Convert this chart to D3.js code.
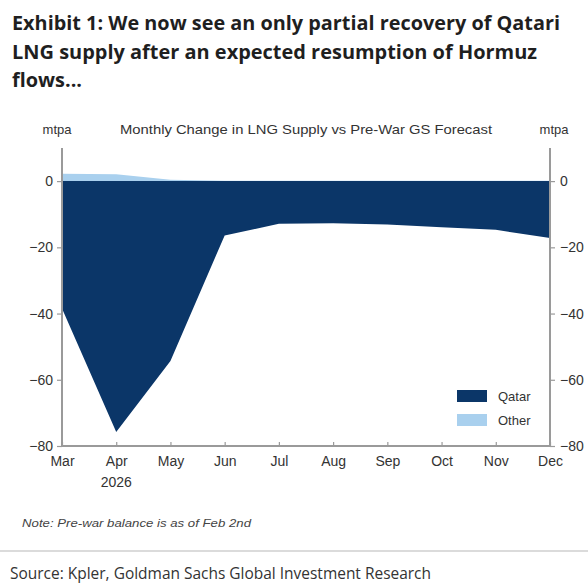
<!DOCTYPE html>
<html lang="en"><head>
<meta charset="UTF-8"><title>Exhibit 1 - Qatari LNG supply</title>
<style>
  body { margin:0; background:#fff; }
  svg { display:block; }
  .title { font-family: 'Open Sans', 'Noto Sans', sans-serif; font-weight:700; font-size:19.5px; fill:#1f1f1f; }
  .ax text { font-family: 'Liberation Sans', Arial, sans-serif; font-size:14px; fill:#333; }
  .lab { font-family: 'Liberation Sans', Arial, sans-serif; font-size:13px; fill:#333; }
  .note { font-family: 'Liberation Sans', Arial, sans-serif; font-style:italic; font-size:11px; fill:#444; }
  .src { font-family: 'Open Sans', 'Noto Sans', sans-serif; font-size:16px; fill:#333; }
</style>
</head><body>
<svg id="chart" width="588" height="584"></svg>
<script src="https://cdn.jsdelivr.net/npm/d3@7/dist/d3.min.js"></script>
<script>
// values (mtpa, change vs pre-war forecast)
const months = ['Mar', 'Apr', 'May', 'Jun', 'Jul', 'Aug', 'Sep', 'Oct', 'Nov', 'Dec'];
const qatar = [-38.5, -75.8, -54.3, -16.4, -12.9, -12.7, -13.1, -13.9, -14.7, -17.2];
const other = [2.2, 2.1, 0.4, 0.1, 0.1, 0.1, 0.1, 0.1, 0.1, 0.1];
const yTicks = [0, -20, -40, -60, -80];
const seriesNames = ['Qatar', 'Other'];
const seriesColors = ['#0b3668', '#a9d0ee'];

const svg = d3.select('#chart');
const plotL = 62, plotR = 550, plotT = 148, plotB = 446;

// ───────────── titles ─────────────
const titleLines = [
  ['Exhibit 1: We now see an only partial recovery of Qatari', 30, 548],
  ['LNG supply after an expected resumption of Hormuz', 58.5, 525],
  ['flows...', 87, 70],
];
titleLines.forEach(([t, ty, w]) => {
  svg.append('text').attr('class', 'title').attr('x', 12).attr('y', ty)
    .attr('textLength', w).attr('lengthAdjust', 'spacingAndGlyphs').text(t);
});

svg.append('text').attr('class', 'lab').attr('x', 120).attr('y', 134)
  .attr('textLength', 372).attr('lengthAdjust', 'spacingAndGlyphs')
  .text('Monthly Change in LNG Supply vs Pre-War GS Forecast');
svg.append('text').attr('class', 'lab').attr('x', 57).attr('y', 134).attr('text-anchor', 'middle').text('mtpa');
svg.append('text').attr('class', 'lab').attr('x', 554).attr('y', 134).attr('text-anchor', 'middle').text('mtpa');

// ───────────── scales ─────────────
const x = d3.scalePoint().domain(months).range([plotL, plotR]);
const y = d3.scaleLinear().domain([-80, 10]).range([plotB, plotT]);

const rows = months.map((m, i) => ({ month: m, Qatar: qatar[i], Other: other[i] }));
const stacked = d3.stack().keys(seriesNames).offset(d3.stackOffsetDiverging)(rows);

const area = d3.area()
  .x(d => x(d.data.month))
  .y0(d => y(d[0]))
  .y1(d => y(d[1]));

svg.append('g').selectAll('path')
  .data(stacked).join('path')
  .attr('fill', (d, i) => seriesColors[i])
  .attr('d', area);

// ───────────── axes ─────────────
const fmt = d => d < 0 ? '\u2212' + Math.abs(d) : d;
const axisColor = '#9a9a9a';

const yl = svg.append('g').attr('class', 'ax').attr('transform', `translate(${plotL},0)`)
  .call(d3.axisLeft(y).tickValues(yTicks).tickSize(5).tickPadding(4).tickFormat(fmt));
const yr = svg.append('g').attr('class', 'ax').attr('transform', `translate(${plotR},0)`)
  .call(d3.axisRight(y).tickValues(yTicks).tickSize(5).tickPadding(5).tickFormat(fmt));
const xb = svg.append('g').attr('class', 'ax').attr('transform', `translate(0,${plotB})`)
  .call(d3.axisBottom(x).tickSize(-4).tickPadding(10));

[yl, yr, xb].forEach(g => {
  g.select('.domain').attr('stroke', axisColor).attr('stroke-width', 2);
  g.selectAll('.tick line').attr('stroke', axisColor).attr('stroke-width', 1.2);
  g.selectAll('.tick text').attr('fill', '#333');
});
xb.select('.domain').attr('d', `M${plotL},0H${plotR}`);
yl.select('.domain').attr('d', `M0,${plotT}V${plotB}`);
yr.select('.domain').attr('d', `M0,${plotT}V${plotB}`);

svg.append('text').attr('x', x('Apr')).attr('y', 487)
  .attr('text-anchor', 'middle')
  .style('font-family', "'Liberation Sans', Arial, sans-serif").style('font-size', '14px').style('fill', '#333')
  .text('2026');

// ───────────── legend ─────────────
const lg = svg.append('g').attr('transform', 'translate(457,390)');
seriesNames.forEach((name, i) => {
  lg.append('rect').attr('x', 0).attr('y', i * 24).attr('width', 30).attr('height', 12).attr('fill', seriesColors[i]);
  lg.append('text').attr('class', 'lab').attr('x', 41).attr('y', i * 24 + 10.5).text(name);
});

// ───────────── footer ─────────────
svg.append('text').attr('class', 'note').attr('x', 22).attr('y', 527)
  .attr('textLength', 229).attr('lengthAdjust', 'spacingAndGlyphs')
  .text('Note: Pre-war balance is as of Feb 2nd');
svg.append('line').attr('x1', 0).attr('x2', 588).attr('y1', 551).attr('y2', 551)
  .attr('stroke', '#cfcfcf').attr('stroke-width', 1.5);
svg.append('text').attr('class', 'src').attr('x', 10).attr('y', 579)
  .attr('textLength', 421).attr('lengthAdjust', 'spacingAndGlyphs')
  .text('Source: Kpler, Goldman Sachs Global Investment Research');
</script>
</body></html>
